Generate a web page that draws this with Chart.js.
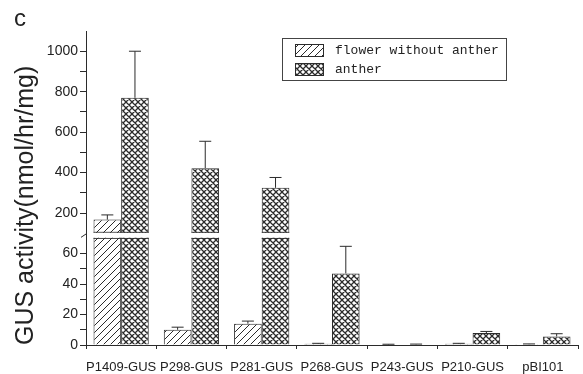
<!DOCTYPE html>
<html>
<head>
<meta charset="utf-8">
<script src="https://cdn.jsdelivr.net/npm/chart.js@4.4.1/dist/chart.umd.min.js"></script>
<style>
  html, body { margin: 0; padding: 0; background: #fff; }
  #wrap { position: relative; width: 583px; height: 374px; }
</style>
</head>
<body>
<div id="wrap"><canvas id="chart"></canvas></div>
<script>
const categories = ['P1409-GUS', 'P298-GUS', 'P281-GUS', 'P268-GUS', 'P243-GUS', 'P210-GUS', 'pBI101']
const flower = [168, 10, 14, 0.8, 0.3, 0.8, 0.5]
const flowerErr = [23, 1.7, 1.7, 0.3, 0.2, 0.3, 0.2]
const anther = [770, 422, 325, 47, 0.4, 7.8, 5.6]
const antherErr = [230, 133, 51, 17.8, 0.2, 1.1, 1.8]

// y axis is broken: lower part 0-72, upper part 90-1100
const lowerTicks = [0, 10, 20, 30, 40, 50, 60]
const upperTicks = [200, 300, 400, 500, 600, 700, 800, 900, 1000]

const INK = '#2b2b2b'
const GAP = 5

function hatch(size, cross) {
  const c = document.createElement('canvas')
  c.width = size
  c.height = size
  const g = c.getContext('2d')
  g.fillStyle = '#fff'
  g.fillRect(0, 0, size, size)
  g.strokeStyle = INK
  g.lineWidth = cross ? 1.3 : 1
  g.beginPath()
  g.moveTo(0, size); g.lineTo(size, 0)
  g.moveTo(-1, 1); g.lineTo(1, -1)
  g.moveTo(size - 1, size + 1); g.lineTo(size + 1, size - 1)
  if (cross) {
    g.moveTo(0, 0); g.lineTo(size, size)
    g.moveTo(size - 1, -1); g.lineTo(size + 1, 1)
    g.moveTo(-1, size - 1); g.lineTo(1, size + 1)
  }
  g.stroke()
  return g.createPattern(c, 'repeat')
}

const flowerFill = hatch(7, false)
const antherFill = hatch(6, true)

function bars(label, data, errors, fill, stack, axis) {
  return {
    label, data, errors, stack,
    yAxisID: axis,
    backgroundColor: fill,
    borderColor: INK,
    borderWidth: 1,
    categoryPercentage: 0.786,
    barPercentage: 1
  }
}

// each series is drawn twice, once per axis part, and clipped to that part
const brokenAxis = {
  id: 'brokenAxis',
  beforeDatasetDraw(chart, args) {
    const { ctx, chartArea } = chart
    const s = chart.scales[args.meta.yAxisID]
    const top = s.id === 'yLow' ? s.top + GAP / 2 : s.top - 20
    const bottom = s.id === 'yHigh' ? s.bottom - GAP / 2 : s.bottom
    ctx.save()
    ctx.beginPath()
    ctx.rect(chartArea.left, top, chartArea.width, bottom - top)
    ctx.clip()
  },
  afterDatasetDraw(chart, args) {
    const { ctx } = chart
    const s = chart.scales[args.meta.yAxisID]
    const ds = chart.data.datasets[args.index]
    ctx.strokeStyle = INK
    ctx.lineWidth = 1
    ctx.beginPath()
    args.meta.data.forEach((bar, i) => {
      const y0 = s.getPixelForValue(ds.data[i])
      const y1 = s.getPixelForValue(ds.data[i] + ds.errors[i])
      ctx.moveTo(bar.x, y0)
      ctx.lineTo(bar.x, y1)
      ctx.moveTo(bar.x - 6, y1)
      ctx.lineTo(bar.x + 6, y1)
      // close the bar where it is cut by the break
      const edge = s.id === 'yHigh' ? s.bottom - GAP / 2 - 0.5 : s.top + GAP / 2 + 0.5
      if (y0 < edge && (s.id === 'yLow' || s.getPixelForValue(s.min) >= edge)) {
        ctx.moveTo(bar.x - bar.width / 2, edge)
        ctx.lineTo(bar.x + bar.width / 2, edge)
      }
    })
    ctx.stroke()
    ctx.restore()
  },
  afterDraw(chart) {
    const { ctx } = chart
    const s = chart.scales.yLow
    const x = s.right
    const y = s.top
    ctx.save()
    ctx.strokeStyle = INK
    ctx.lineWidth = 1
    ctx.beginPath()
    ctx.moveTo(x - 5, y + 2)
    ctx.lineTo(x + 1, y - 2)
    ctx.stroke()
    ctx.restore()
  }
}

// framed legend inside the plot, two rows
const boxLegend = {
  id: 'boxLegend',
  afterDraw(chart) {
    const { ctx, chartArea } = chart
    const x = chartArea.left + 196
    const y = chartArea.top + 7
    ctx.save()
    ctx.fillStyle = '#fff'
    ctx.fillRect(x, y, 224, 42)
    ctx.strokeStyle = '#444'
    ctx.lineWidth = 1
    ctx.strokeRect(x + 0.5, y + 0.5, 224, 42)
    chart.data.datasets.slice(0, 2).forEach((ds, i) => {
      const ry = y + 6 + i * 19
      ctx.fillStyle = ds.backgroundColor
      ctx.fillRect(x + 13, ry, 28, 12)
      ctx.strokeStyle = INK
      ctx.strokeRect(x + 13.5, ry + 0.5, 28, 12)
      ctx.fillStyle = '#222'
      ctx.font = '13px "Liberation Mono", "DejaVu Sans Mono", monospace'
      ctx.textBaseline = 'middle'
      ctx.fillText(ds.label, x + 53, ry + 6.5)
    })
    ctx.restore()
  }
}

const tickFont = { family: 'Liberation Sans, Arial, sans-serif', size: 14 }

new Chart(document.getElementById('chart'), {
  type: 'bar',
  data: {
    labels: categories,
    datasets: [
      bars('flower without anther', flower, flowerErr, flowerFill, 'f', 'yLow'),
      bars('anther', anther, antherErr, antherFill, 'a', 'yLow'),
      bars('flower without anther', flower, flowerErr, flowerFill, 'f', 'yHigh'),
      bars('anther', anther, antherErr, antherFill, 'a', 'yHigh')
    ]
  },
  options: {
    responsive: true,
    maintainAspectRatio: false,
    animation: false,
    layout: { padding: { left: 14, right: 5, top: 0, bottom: 0 } },
    plugins: {
      legend: { display: false },
      tooltip: { enabled: false },
      title: {
        display: true,
        text: 'c',
        align: 'start',
        color: '#222',
        font: { family: 'Liberation Sans, Arial, sans-serif', size: 24, weight: 'normal', lineHeight: 1 },
        padding: { top: 7, bottom: 0 }
      }
    },
    scales: {
      x: {
        type: 'category',
        afterFit: s => { s.height = 29 },
        grid: { drawOnChartArea: false, tickLength: 4, color: INK, offset: true },
        border: { color: INK },
        ticks: {
          color: '#222',
          padding: 11,
          autoSkip: false,
          maxRotation: 0,
          font: { family: 'Liberation Sans, Arial, sans-serif', size: 13 }
        }
      },
      yLow: {
        type: 'linear',
        position: 'left',
        stack: 'gus',
        stackWeight: 110,
        stacked: false,
        min: 0,
        max: 72,
        afterBuildTicks: s => { s.ticks = lowerTicks.map(v => ({ value: v })) },
        afterFit: s => { s.width = 72 },
        grid: { drawOnChartArea: false, tickLength: 6, color: INK },
        border: { color: INK },
        ticks: {
          autoSkip: false,
          padding: 2,
          color: '#222',
          font: tickFont,
          callback: v => (v % 20 === 0 ? v : '')
        },
        title: {
          display: true,
          text: 'GUS activity(nmol/hr/mg)',
          align: 'start',
          color: '#222',
          padding: 0,
          font: { family: 'Liberation Sans, Arial, sans-serif', size: 25, lineHeight: 1 }
        }
      },
      yHigh: {
        type: 'linear',
        position: 'left',
        stack: 'gus',
        stackWeight: 205,
        stacked: false,
        min: 90,
        max: 1100,
        afterBuildTicks: s => { s.ticks = upperTicks.map(v => ({ value: v })) },
        afterFit: s => { s.width = 72 },
        grid: { drawOnChartArea: false, tickLength: 6, color: INK },
        border: { color: INK },
        ticks: {
          autoSkip: false,
          padding: 2,
          color: '#222',
          font: tickFont,
          callback: v => (v % 200 === 0 ? v : '')
        }
      }
    }
  },
  plugins: [brokenAxis, boxLegend]
})
</script>
</body>
</html>
